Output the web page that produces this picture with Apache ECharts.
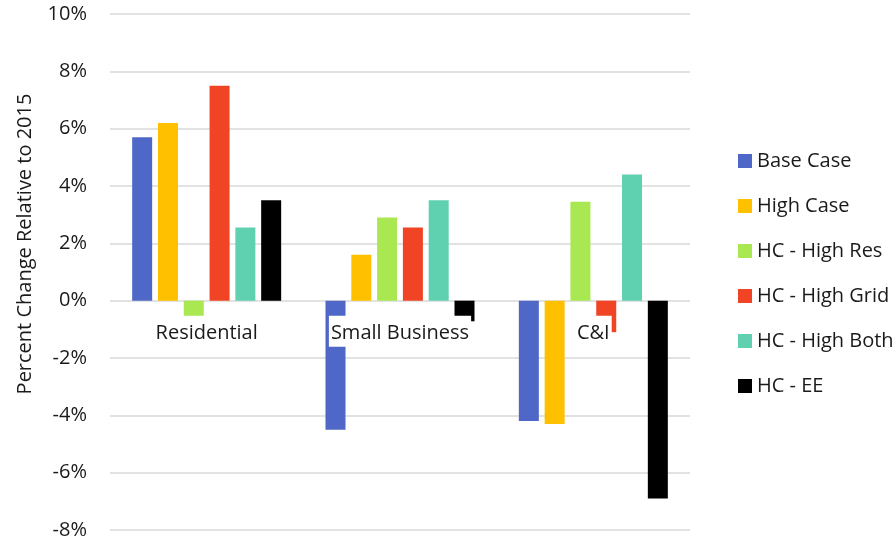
<!DOCTYPE html>
<html>
<head>
<meta charset="utf-8">
<script src="https://cdn.jsdelivr.net/npm/echarts@6/dist/echarts.min.js"></script>
<style>html,body{margin:0;padding:0;background:#fff;}#c{width:896px;height:541px;}</style>
</head>
<body>
<div id="c"></div>
<script>
const categories = ['Residential', 'Small Business', 'C&I'];
const seriesNames = ['Base Case', 'High Case', 'HC - High Res', 'HC - High Grid', 'HC - High Both', 'HC - EE'];
const baseCase = [5.7, -4.5, -4.2];
const highCase = [6.2, 1.6, -4.3];
const hcHighRes = [-0.55, 2.9, 3.45];
const hcHighGrid = [7.5, 2.55, -1.1];
const hcHighBoth = [2.55, 3.5, 4.4];
const hcEE = [3.5, -0.72, -6.9];
const yTicks = [-8, -6, -4, -2, 0, 2, 4, 6, 8, 10];
const colors = ['#4f67c7', '#ffc000', '#a9e851', '#f04425', '#5fd0b0', '#000000'];

const values = [baseCase, highCase, hcHighRes, hcHighGrid, hcHighBoth, hcEE];
const FONT = '"Open Sans", sans-serif';
const TXT = '#1a1a1a';

const chart = echarts.init(document.getElementById('c'), null, {renderer: 'canvas'});
chart.setOption({
  animation: false,
  color: colors,
  grid: {left: 110, right: 206, top: 14, bottom: 11, containLabel: false, outerBoundsMode: 'none'},
  legend: {
    orient: 'vertical',
    left: 733,
    top: 146,
    itemWidth: 14,
    itemHeight: 14,
    itemGap: 25,
    icon: 'rect',
    data: seriesNames,
    textStyle: {fontFamily: FONT, fontSize: 20, color: TXT, lineHeight: 20}
  },
  xAxis: {
    type: 'category',
    data: categories,
    z: 10,
    offset: 0,
    axisLine: {show: false, onZero: false},
    axisTick: {show: false},
    axisLabel: {
      fontFamily: FONT, fontSize: 20, color: TXT,
      margin: 15, backgroundColor: '#ffffff', padding: [4, 2, 0, 2], lineHeight: 27
    }
  },
  yAxis: {
    type: 'value',
    min: yTicks[0],
    max: yTicks[yTicks.length - 1],
    interval: 2,
    axisLine: {show: false},
    axisTick: {show: false},
    splitLine: {lineStyle: {color: '#d9d9d9', width: 1.5}},
    axisLabel: {fontFamily: FONT, fontSize: 20, color: TXT, margin: 23, formatter: '{value}%'}
  },
  graphic: [{
    type: 'text',
    x: 25, y: 244,
    rotation: Math.PI / 2,
    style: {
      text: 'Percent Change Relative to 2015',
      fontFamily: FONT, fontSize: 20, fill: TXT,
      textAlign: 'center', textVerticalAlign: 'middle'
    }
  }],
  series: seriesNames.map((name, i) => ({
    name: name,
    type: 'bar',
    data: values[i],
    barWidth: 20,
    barGap: '29%',
    itemStyle: {color: colors[i]}
  }))
});
// Move the category axis up to the zero line using the value axis's own scale
const zeroY = chart.convertToPixel({yAxisIndex: 0}, 0);
const bottomY = chart.convertToPixel({yAxisIndex: 0}, yTicks[0]);
chart.setOption({xAxis: {offset: zeroY - bottomY}});
</script>
</body>
</html>
